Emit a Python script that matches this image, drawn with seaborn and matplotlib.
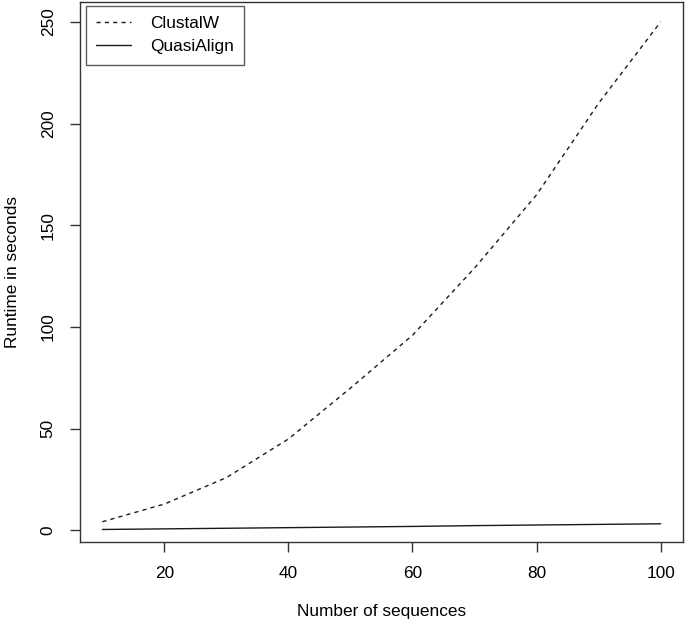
import matplotlib
matplotlib.use('Agg')
import matplotlib.pyplot as plt
import pandas as pd
import seaborn as sns

# runtime vs number of sequences
n_sequences = [10, 20, 30, 40, 50, 60, 70, 80, 90, 100]
clustalw = [4.3, 13.0, 26.0, 45.0, 70.0, 96.0, 129.0, 165.0, 210.0, 250.0]
quasialign = [0.5, 0.8, 1.1, 1.4, 1.7, 2.0, 2.4, 2.7, 3.0, 3.3]
series_names = ['ClustalW', 'QuasiAlign']

sns.set_style('ticks')
plt.rcParams['font.family'] = ['Liberation Sans', 'DejaVu Sans']
plt.rcParams['text.color'] = 'black'
plt.rcParams['axes.labelcolor'] = 'black'
plt.rcParams['xtick.labelcolor'] = 'black'
plt.rcParams['ytick.labelcolor'] = 'black'

df = pd.DataFrame({
    'n': n_sequences * 2,
    'runtime': clustalw + quasialign,
    'method': [series_names[0]] * len(n_sequences) + [series_names[1]] * len(n_sequences),
})

fig = plt.figure(figsize=(6.85, 6.25), dpi=100)
ax = fig.add_axes([0.1168, 0.1333, 0.8802, 0.8635])

sns.lineplot(data=df, x='n', y='runtime', hue='method', style='method',
             palette=['#1a1a1a', '#1a1a1a'], dashes={'ClustalW': (3, 3), 'QuasiAlign': ''},
             linewidth=1.0, ax=ax, legend=False)

# R-style axis ranges (4% padding)
ax.set_xlim(6.4, 103.6)
ax.set_ylim(-5.5, 259.8)
ax.set_xticks([20, 40, 60, 80, 100])
ax.set_yticks([0, 50, 100, 150, 200, 250])

for side in ['top', 'right', 'left', 'bottom']:
    ax.spines[side].set_visible(True)
    ax.spines[side].set_color('#333333')
    ax.spines[side].set_linewidth(1.0)

ax.tick_params(axis='both', direction='out', length=7.5, width=1.0, color='#333333',
               labelsize=12.4, pad=10, labelcolor='black')
plt.setp(ax.get_yticklabels(), rotation=90, va='center')

ax.set_xlabel('Number of sequences', fontsize=12.4, color='black')
ax.set_ylabel('Runtime in seconds', fontsize=12.4, color='black')
ax.xaxis.set_label_coords(0.5, -0.115)
ax.yaxis.set_label_coords(-0.1, 0.5)

handles = [plt.Line2D([], [], color='#1a1a1a', lw=1.0, dashes=(3, 3)),
           plt.Line2D([], [], color='#1a1a1a', lw=1.0)]
leg = ax.legend(handles, series_names, loc='upper left', bbox_to_anchor=(0.01, 0.9926),
                borderaxespad=0, fontsize=12.4, frameon=True, fancybox=False,
                handlelength=2.0, handletextpad=1.1, labelspacing=0.45,
                borderpad=0.6)
leg.get_frame().set_edgecolor('#333333')
leg.get_frame().set_linewidth(1.0)
for t in leg.get_texts():
    t.set_color('black')

fig.savefig('out.png', dpi=100)
plt.close()
